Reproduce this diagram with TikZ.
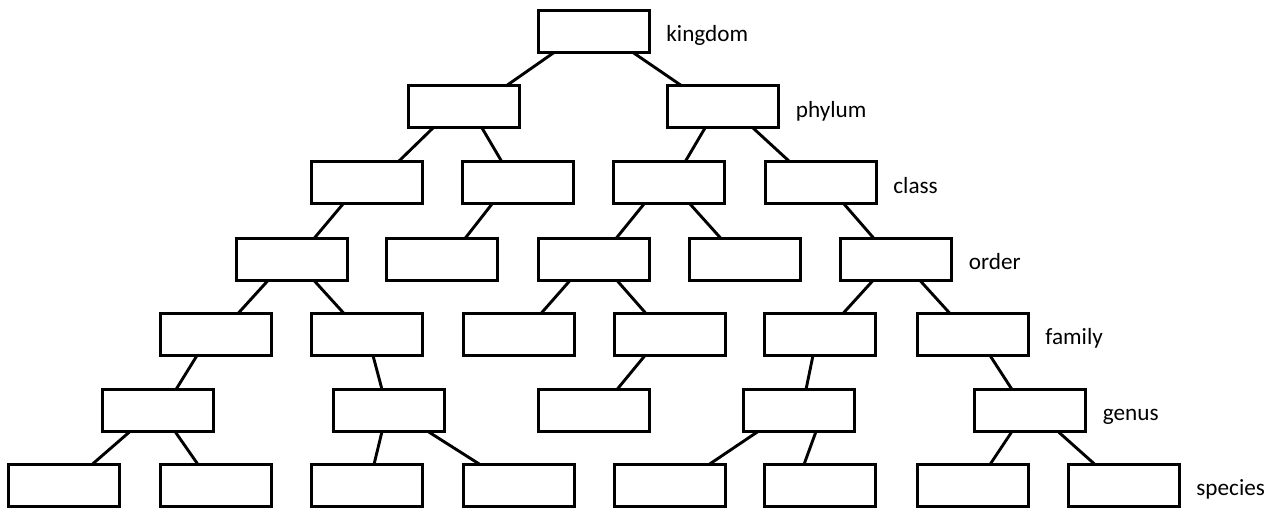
\documentclass[tikz,border=0pt]{standalone}
\usepackage{fontspec}
\setmainfont{Carlito}
\usetikzlibrary{calc}

\begin{document}
\begin{tikzpicture}[x=0.5pt,y=-0.5pt,
		taxon/.style={draw, line width=1.5pt, minimum width=55.5pt, minimum height=21pt, inner sep=0pt, outer sep=0pt},
		rank/.style={anchor=base west, inner sep=0pt, font=\fontsize{11.6}{13}\selectfont},
		ramo/.style={line width=1.45pt},
		]
		% ── ramo da #1 (scarto #2) a #3 (scarto #4) ──
		\def\branch#1#2#3#4{%
			\draw[ramo] ($(#1.south)+(#2,0)$) -- ($(#3.north)+(#4,0)$);}
		
		\useasboundingbox (0,0) rectangle (1281,512);
		
		% ===================== caselle =====================
		\node[taxon] (k)  at (593.5,31.5) {};
		
		\node[taxon] (p1) at (464,107) {};
		\node[taxon] (p2) at (723,107) {};
		
		\node[taxon] (c1) at (367,183) {};
		\node[taxon] (c2) at (518,183) {};
		\node[taxon] (c3) at (669,183) {};
		\node[taxon] (c4) at (820.5,183) {};
		
		\node[taxon] (o1) at (291.5,259.5) {};
		\node[taxon] (o2) at (442,259.5) {};
		\node[taxon] (o3) at (593.5,259.5) {};
		\node[taxon] (o4) at (744.5,259.5) {};
		\node[taxon] (o5) at (896,259.5) {};
		
		\node[taxon] (f1) at (216,334.5) {};
		\node[taxon] (f2) at (367,334.5) {};
		\node[taxon] (f3) at (518.5,334.5) {};
		\node[taxon] (f4) at (669.5,334.5) {};
		\node[taxon] (f5) at (820,334.5) {};
		\node[taxon] (f6) at (972.5,334.5) {};
		
		\node[taxon] (g1) at (157.5,410.5) {};
		\node[taxon] (g2) at (389,410.5) {};
		\node[taxon] (g3) at (594,410.5) {};
		\node[taxon] (g4) at (799,410.5) {};
		\node[taxon] (g5) at (1030,410.5) {};
		
		\foreach \n/\x in {1/64,2/216,3/367,4/518.5,5/669.5,6/820,7/972.5,8/1123.5}
		\node[taxon] (s\n) at (\x,485.5) {};
		
		% ===================== etichette =====================
		\node[rank] (lk) at ($(k.east)+(17,10.5)$)  {kingdom};
		\node[rank] (lp) at ($(p2.east)+(17,10.5)$) {phylum};
		\node[rank] (lc) at ($(c4.east)+(17,10.5)$) {class};
		\node[rank] (lo) at ($(o5.east)+(17,10.5)$) {order};
		\node[rank] (lf) at ($(f6.east)+(17,10.5)$) {family};
		\node[rank] (lg) at ($(g5.east)+(17,10.5)$) {genus};
		\node[rank] (ls) at ($(s8.east)+(17,10.5)$) {species};
		
		% ===================== rami =====================
		\branch{k}{-39.5}{p1}{42}
		\branch{k}{39.5}{p2}{-41}
		
		\branch{p1}{-31}{c1}{31}
		\branch{p1}{18}{c2}{-16}
		\branch{p2}{-18}{c3}{16}
		\branch{p2}{30}{c4}{-30.5}
		
		\branch{c1}{-24}{o1}{22.5}
		\branch{c2}{-26}{o2}{23}
		\branch{c3}{-25}{o3}{22.5}
		\branch{c3}{21}{o4}{-23.5}
		\branch{c4}{23.5}{o5}{-22}
		
		\branch{o1}{-23.5}{f1}{22}
		\branch{o1}{22.5}{f2}{-23}
		\branch{o3}{-23.5}{f3}{22.5}
		\branch{o3}{23.5}{f4}{-23.5}
		\branch{o5}{-23}{f5}{23}
		\branch{o5}{24}{f6}{-22.5}
		
		\branch{f1}{-19}{g1}{18.5}
		\branch{f2}{6}{g2}{-7}
		\branch{f4}{-24.5}{g3}{23}
		\branch{f5}{-7}{g4}{7}
		\branch{f6}{17.5}{g5}{-18}
		
		\branch{g1}{-27.5}{s1}{28}
		\branch{g1}{17.5}{s2}{-18}
		\branch{g2}{-7}{s3}{7}
		\branch{g2}{39}{s4}{-38.5}
		\branch{g4}{-41}{s5}{39.5}
		\branch{g4}{17}{s6}{-16}
		\branch{g5}{-18}{s7}{17.5}
		\branch{g5}{28}{s8}{-28.5}
		
	\end{tikzpicture}
\end{document}
